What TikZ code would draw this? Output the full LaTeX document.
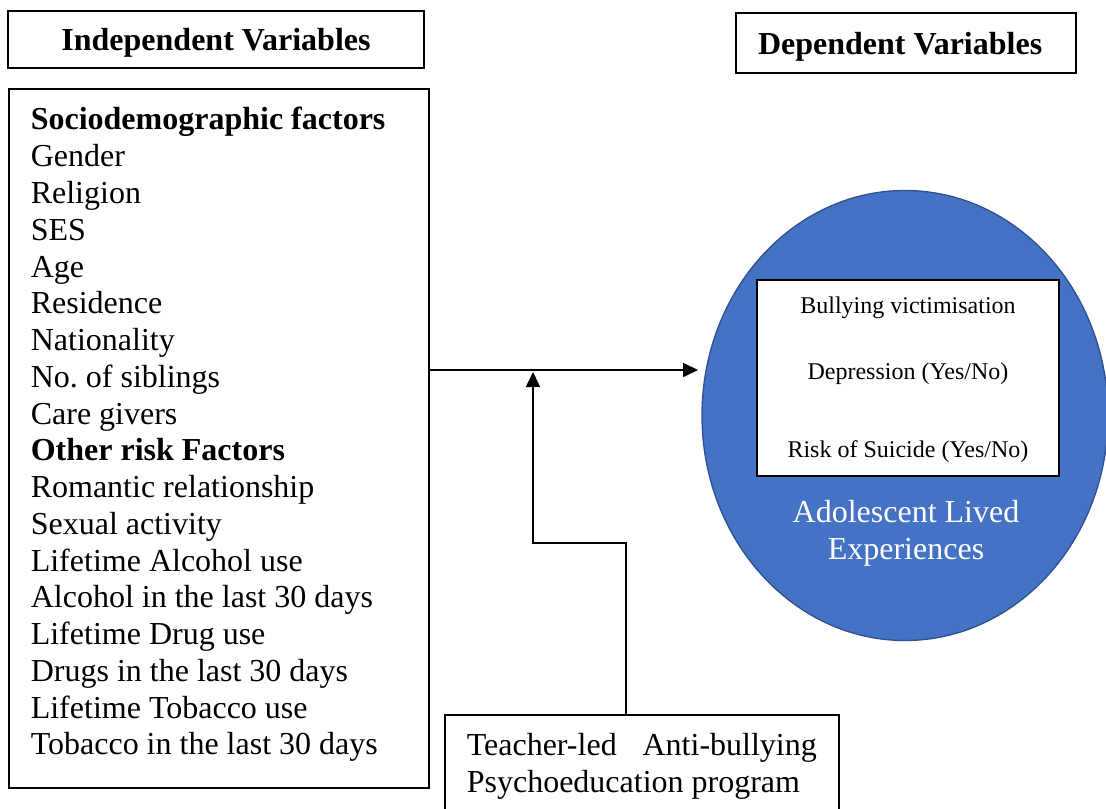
\documentclass[tikz,border=0pt]{standalone}
\usepackage{fontspec}
\setmainfont{Liberation Serif}
\usetikzlibrary{shapes.geometric,arrows.meta}

\definecolor{ovalblue}{RGB}{68,114,196}
\definecolor{ovaledge}{RGB}{47,82,143}

% plain word spaces inside left-aligned nodes
\newcommand\plainspaces{\frenchspacing\spaceskip=0pt\xspaceskip=0pt\relax}

\tikzset{every picture/.style={line width=1.2pt}}
\tikzset{
	varbox/.style={draw, inner sep=0pt, text depth=0pt, font=\fontsize{24}{27}\selectfont\bfseries},
	listtext/.style={align=left, inner xsep=16.5pt, font=\fontsize{24}{27.57}\selectfont},
	itemtext/.style={font=\fontsize{18}{22}\selectfont},
	linkarrow/.style={-{Triangle[length=11.25pt,width=10.5pt]}}
}

\begin{document}
\begin{tikzpicture}[x=0.75pt,y=0.75pt,yscale=-1,xscale=1]
	\clip (0,0) rectangle (1106,809);
	\useasboundingbox (0,0) rectangle (1106,809);

	%Shape: Rectangle [headers]
	\node (indhead) [varbox, minimum width=312pt, minimum height=42.75pt] at (216,39.5) {Independent Variables};
	\node (dephead) [varbox, align=left, text width=222pt, inner xsep=16.5pt, minimum height=45pt] at (906,43) {\plainspaces Dependent Variables};

	%Shape: Rectangle [id:factors]
	\node (ind) [draw, inner sep=0pt, minimum width=315pt, minimum height=524.25pt, anchor=north west] at (8,88) {};
	% Text Node
	\node (indlist) [listtext, text width=282pt, inner ysep=14pt, anchor=north west] at (ind.north west) {\plainspaces
		\textbf{Sociodemographic factors}\\
		Gender\\
		Religion\\
		SES\\
		Age\\
		Residence\\
		Nationality\\
		No. of siblings\\
		Care givers\\
		\textbf{Other risk Factors}\\
		Romantic relationship\\
		Sexual activity\\
		Lifetime Alcohol use\\
		Alcohol in the last 30 days\\
		Lifetime Drug use\\
		Drugs in the last 30 days\\
		Lifetime Tobacco use\\
		Tobacco in the last 30 days};

	%Shape: Ellipse [id:outcome]
	\node (outcome) [ellipse, draw=ovaledge, line width=1pt, fill=ovalblue, inner sep=0pt, minimum width=304.5pt, minimum height=337.5pt] at (905,415.5) {};
	%Shape: Rectangle [id:inner]
	\node (inner) [draw, fill=white, inner sep=0pt, minimum width=226.5pt, minimum height=147pt] at (908,378) {};

	% Text Node
	\node (bully) [itemtext] at (908,308) {Bullying victimisation};
	% Text Node
	\node (depr) [itemtext] at (908,374) {Depression (Yes/No)};
	% Text Node
	\node (suic) [itemtext] at (908,452) {Risk of Suicide (Yes/No)};
	% Text Node
	\node (lived) [align=center, text=white, font=\fontsize{24}{27.6}\selectfont] at (906,533) {Adolescent Lived\\Experiences};

	%Shape: Rectangle [id:program]
	\node (prog) [draw, listtext, text width=262.5pt, inner ysep=14pt, anchor=north west] at (444,714) {\plainspaces
		Teacher-led\hfill Anti-bullying\\
		Psychoeducation program};

	% Connectors
	\coordinate (tip) at (698,370);
	\coordinate (join) at (533,370);
	\coordinate (bendA) at (533,543);
	\coordinate (bendB) at (626,543);
	\draw [linkarrow] (ind.east |- tip) -- (tip);
	\draw [linkarrow, shorten >=1.5pt] (prog.north -| bendB) -- (bendB) -- (bendA) -- (join);

\end{tikzpicture}
\end{document}
